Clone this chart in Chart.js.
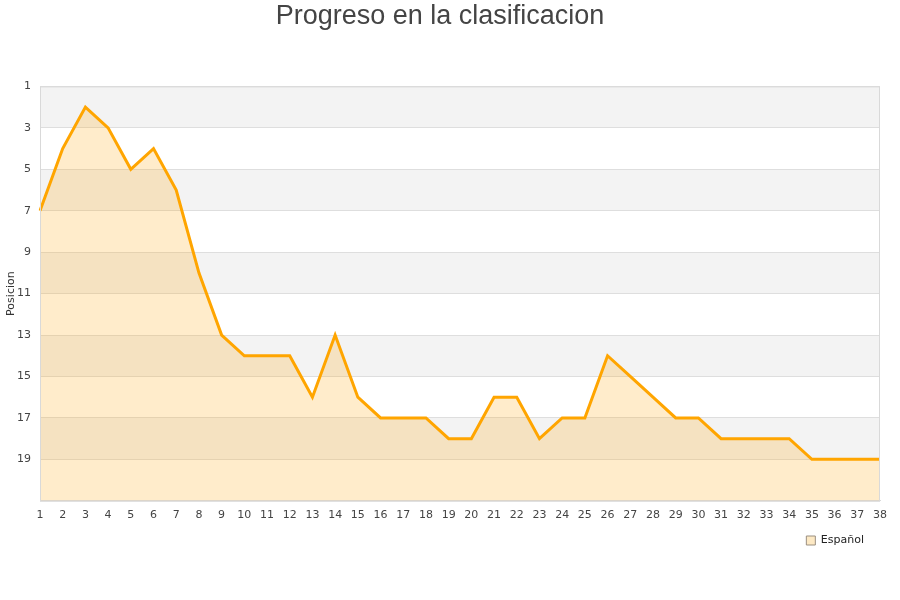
<!DOCTYPE html>
<html>
<head>
<meta charset="utf-8">
<script src="https://cdn.jsdelivr.net/npm/chart.js@4/dist/chart.umd.min.js"></script>
<style>
html,body{margin:0;padding:0;background:#fff;}
#wrap{width:900px;height:600px;}
</style>
</head>
<body>
<div id="wrap"><canvas id="c" width="900" height="600"></canvas></div>
<script>
const jornadas = [1,2,3,4,5,6,7,8,9,10,11,12,13,14,15,16,17,18,19,20,21,22,23,24,25,26,27,28,29,30,31,32,33,34,35,36,37,38];
const posiciones = [7,4,2,3,5,4,6,10,13,14,14,14,16,13,16,17,17,17,18,18,16,16,18,17,17,14,15,16,17,17,18,18,18,18,19,19,19,19];
const yTicks = [1,3,5,7,9,11,13,15,17,19];
const seriesName = 'Español';
const chartTitle = 'Progreso en la clasificacion';
const yTitle = 'Posicion';

const bandPlugin = {
  id: 'bands',
  afterLayout(chart) {
    if (chart.legend) {
      chart.legend.left -= 8; chart.legend.right -= 8;
      chart.legend.top -= 3; chart.legend.bottom -= 3;
    }
  },
  beforeDraw(chart) {
    const {ctx, chartArea, scales} = chart;
    const y = scales.y;
    ctx.save();
    ctx.fillStyle = '#f3f3f3';
    for (let v = 1; v < 21; v += 4) {
      const y1 = y.getPixelForValue(v), y2 = y.getPixelForValue(v + 2);
      ctx.fillRect(chartArea.left, Math.min(y1, y2), chartArea.right - chartArea.left, Math.abs(y2 - y1));
    }
    ctx.restore();
  },
  afterDatasetsDraw(chart) {
    const {ctx, chartArea} = chart;
    ctx.save();
    ctx.strokeStyle = '#d9d9d9';
    ctx.lineWidth = 1;
    ctx.strokeRect(chartArea.left + 0.5, chartArea.top + 0.5, chartArea.right - chartArea.left - 1, chartArea.bottom - chartArea.top);
    ctx.restore();
  }
};

new Chart(document.getElementById('c'), {
  type: 'line',
  data: {
    labels: jornadas,
    datasets: [{
      label: seriesName,
      data: posiciones,
      borderColor: '#ffa500',
      borderWidth: 3,
      backgroundColor: 'rgba(253,170,20,0.22)',
      fill: { value: 21 },
      pointRadius: 0,
      tension: 0
    }]
  },
  options: {
    responsive: false,
    animation: false,
    layout: { padding: { left: 0, right: 20, top: 0, bottom: 41 } },
    plugins: {
      title: {
        display: true,
        text: chartTitle,
        color: '#444',
        font: { family: 'Liberation Sans, Arial, sans-serif', size: 27, weight: 'normal' },
        padding: { top: 0, bottom: 54 }
      },
      legend: {
        position: 'bottom',
        align: 'end',
        labels: {
          boxWidth: 9,
          boxHeight: 9,
          color: '#222',
          font: { family: 'DejaVu Sans, sans-serif', size: 11 },
          padding: 8,
          generateLabels(chart) {
            return chart.data.datasets.map((d, i) => ({
              text: d.label,
              fillStyle: '#fde9c4',
              strokeStyle: '#9a8f80',
              lineWidth: 1,
              datasetIndex: i,
              fontColor: '#222'
            }));
          }
        }
      },
      tooltip: { enabled: false }
    },
    scales: {
      x: {
        offset: false,
        grid: { display: false, drawTicks: false },
        border: { color: '#d9d9d9' },
        ticks: {
          autoSkip: false,
          maxRotation: 0,
          color: '#444',
          font: { family: 'DejaVu Sans, sans-serif', size: 11 },
          padding: 8
        }
      },
      y: {
        reverse: true,
        min: 1,
        max: 21,
        afterBuildTicks(scale) { scale.ticks = yTicks.concat([21]).map(v => ({ value: v })); },
        afterFit(scale) { scale.width = 40; },
        grid: { color: '#dedede', drawTicks: false },
        border: { display: false },
        ticks: {
          color: '#444',
          font: { family: 'DejaVu Sans, sans-serif', size: 11 },
          padding: 9,
          callback: v => (v === 21 ? '' : v)
        },
        title: {
          display: true,
          text: yTitle,
          color: '#333',
          font: { family: 'DejaVu Sans, sans-serif', size: 11 },
          padding: { top: 5, bottom: 0 }
        }
      }
    }
  },
  plugins: [bandPlugin]
});
</script>
</body>
</html>
